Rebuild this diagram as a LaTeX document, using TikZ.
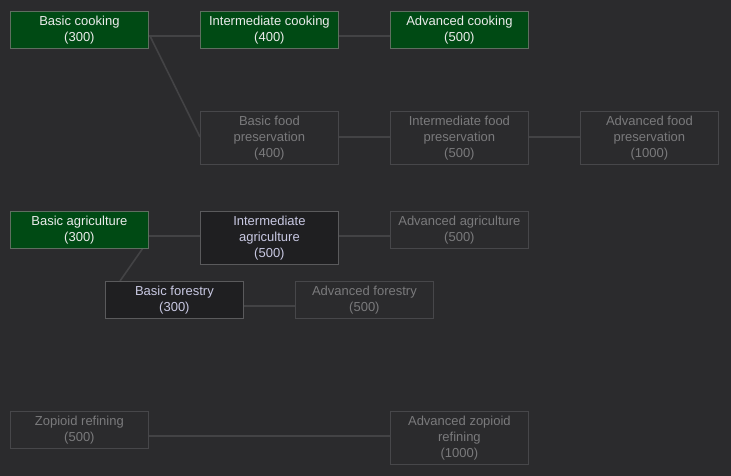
\documentclass[tikz,border=0pt]{standalone}
\usepackage{fontspec}
\setmainfont{Liberation Sans}
\begin{document}
\begin{tikzpicture}[x=1pt,y=-1pt,
  base/.style={draw, anchor=north west, minimum width=138pt, inner sep=0pt, align=center, font=\fontsize{13}{16}\selectfont, line width=0.8pt},
  s/.style={base, minimum height=37pt},
  t/.style={base, minimum height=53pt},
  done/.style={fill=dgreen, draw=gborder, text=white!92!black},
  avail/.style={fill=dfill, draw=dborder, text=ltext},
  lock/.style={fill=bg, draw=lborder, text=gtext},
  con/.style={draw=lcol, line width=1.6pt}]
\definecolor{bg}{HTML}{2B2B2D}
\definecolor{dgreen}{HTML}{004A14}
\definecolor{gborder}{HTML}{5E6E60}
\definecolor{dfill}{HTML}{1F1F21}
\definecolor{dborder}{HTML}{5A5A5C}
\definecolor{ltext}{HTML}{C8C8E2}
\definecolor{lborder}{HTML}{47474A}
\definecolor{gtext}{HTML}{7A7A7C}
\definecolor{lcol}{HTML}{434345}
\fill[bg] (0,0) rectangle (731,476);
\useasboundingbox (0,0) rectangle (731,476);
% connectors first (behind)
\coordinate (c1) at (148,36); \coordinate (c2) at (200,36);
\coordinate (c3) at (338,36); \coordinate (c4) at (390,36);
\coordinate (c5) at (150,36); \coordinate (c6) at (200,137);
\coordinate (c7) at (338,137); \coordinate (c8) at (390,137);
\coordinate (c9) at (528,137); \coordinate (c10) at (580,137);
\coordinate (a1) at (148,236); \coordinate (a2) at (200,236);
\coordinate (a3) at (338,236); \coordinate (a4) at (390,236);
\coordinate (a5) at (143,248); \coordinate (a6) at (120,281);
\coordinate (f1) at (243,306); \coordinate (f2) at (295,306);
\coordinate (z1) at (148,436); \coordinate (z2) at (390,436);
\draw[con] (c1)--(c2); \draw[con] (c3)--(c4); \draw[con] (c5)--(c6);
\draw[con] (c7)--(c8); \draw[con] (c9)--(c10);
\draw[con] (a1)--(a2); \draw[con] (a3)--(a4); \draw[con] (a5)--(a6);
\draw[con] (f1)--(f2); \draw[con] (z1)--(z2);
% nodes
\node[s,done] (bc) at (10,11) {Basic cooking\\(300)};
\node[s,done] (ic) at (200,11) {Intermediate cooking\\(400)};
\node[s,done] (ac) at (390,11) {Advanced cooking\\(500)};
\node[t,lock] (bf) at (200,111) {Basic food\\preservation\\(400)};
\node[t,lock] (if) at (390,111) {Intermediate food\\preservation\\(500)};
\node[t,lock] (af) at (580,111) {Advanced food\\preservation\\(1000)};
\node[s,done] (ba) at (10,211) {Basic agriculture\\(300)};
\node[t,avail] (ia) at (200,211) {Intermediate\\agriculture\\(500)};
\node[s,lock] (aa) at (390,211) {Advanced agriculture\\(500)};
\node[s,avail] (bfo) at (105,281) {Basic forestry\\(300)};
\node[s,lock] (afo) at (295,281) {Advanced forestry\\(500)};
\node[s,lock] (zr) at (10,411) {Zopioid refining\\(500)};
\node[t,lock] (az) at (390,411) {Advanced zopioid\\refining\\(1000)};
\end{tikzpicture}
\end{document}
